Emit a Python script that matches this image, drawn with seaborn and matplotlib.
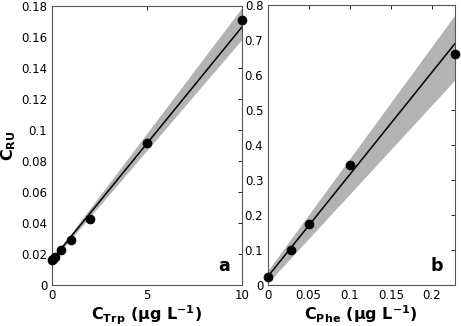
import numpy as np
import pandas as pd
import matplotlib
matplotlib.use("Agg")
import matplotlib.pyplot as plt
import seaborn as sns

# Panel a data (Trp)
trp_x = [0.0, 0.1, 0.2, 0.5, 1.0, 2.0, 5.0, 10.0]
trp_y = [0.0162, 0.0168, 0.0178, 0.0228, 0.0288, 0.0425, 0.0918, 0.1712]
trp_fit = [0.0158, 0.01507]          # intercept, slope
trp_band_x = [0.0, 10.0]
trp_band_lo = [0.0150, 0.1585]
trp_band_hi = [0.0166, 0.1790]

# Panel b data (Phe)
phe_x = [0.0, 0.028, 0.05, 0.1, 0.228]
phe_y = [0.022, 0.099, 0.174, 0.343, 0.660]
phe_fit = [0.023, 2.925]
phe_band_x = [0.0, 0.228]
phe_band_lo = [0.005, 0.586]
phe_band_hi = [0.040, 0.772]

a_xticks = [0, 5, 10]
a_yticks = [0, 0.02, 0.04, 0.06, 0.08, 0.1, 0.12, 0.14, 0.16, 0.18]
a_yticklabels = ["0", "0.02", "0.04", "0.06", "0.08", "0.1", "0.12", "0.14", "0.16", "0.18"]
b_xticks = [0, 0.05, 0.1, 0.15, 0.2]
b_xticklabels = ["0", "0.05", "0.1", "0.15", "0.2"]
b_yticks = [0, 0.1, 0.2, 0.3, 0.4, 0.5, 0.6, 0.7, 0.8]
b_yticklabels = ["0", "0.1", "0.2", "0.3", "0.4", "0.5", "0.6", "0.7", "0.8"]

sns.set_style("white")
plt.rcParams["font.family"] = ["DejaVu Sans"]
plt.rcParams["mathtext.fontset"] = "dejavusans"

fig = plt.figure(figsize=(4.61, 3.26), dpi=100)
ax1 = fig.add_axes([51.5/461, 1-285/326, 190.5/461, 279/326])
ax2 = fig.add_axes([267.5/461, 1-285/326, 187.5/461, 280/326])


def panel(ax, x, y, fit, bx, blo, bhi, xlim, ylim, letter):
    bx = np.asarray(bx)
    xx = np.linspace(bx[0], bx[-1], 50)
    lo = np.interp(xx, bx, blo)
    hi = np.interp(xx, bx, bhi)
    ax.fill_between(xx, lo, hi, color="#b3b3b3", linewidth=0, zorder=1)
    yy = fit[0] + fit[1] * xx
    df = pd.DataFrame({"x": xx, "y": yy})
    sns.lineplot(data=df, x="x", y="y", ax=ax, color="black", linewidth=1.1, zorder=2)
    pts = pd.DataFrame({"x": x, "y": y})
    sns.scatterplot(data=pts, x="x", y="y", ax=ax, color="black", s=42,
                    edgecolor="black", linewidth=0.5, zorder=3, clip_on=False)
    ax.set_xlim(*xlim)
    ax.set_ylim(*ylim)
    ax.text(0.935, 0.035, letter, transform=ax.transAxes, ha="right", va="bottom",
            fontsize=12.5, fontweight="bold", color="black")
    ax.tick_params(direction="in", top=True, right=True, length=3, width=0.6,
                   labelsize=8.5, pad=3, colors="black")
    for s in ax.spines.values():
        s.set_linewidth(0.8)
        s.set_color("#555555")


panel(ax1, trp_x, trp_y, trp_fit, trp_band_x, trp_band_lo, trp_band_hi,
      (0, 10), (0, 0.18), "a")
ax1.set_xticks(a_xticks)
ax1.set_yticks(a_yticks)
ax1.set_yticklabels(a_yticklabels)
ax1.set_xlabel(r"$\mathbf{C_{Trp}}$ ($\mathbf{\mu}$g L$^{\mathbf{-1}}$)",
               fontsize=11.5, fontweight="bold", labelpad=1, color="black")
ax1.set_ylabel(r"$\mathbf{C_{RU}}$", fontsize=11.5, fontweight="bold", labelpad=2,
               color="black")

panel(ax2, phe_x, phe_y, phe_fit, phe_band_x, phe_band_lo, phe_band_hi,
      (0, 0.228), (0, 0.8), "b")
ax2.set_xticks(b_xticks)
ax2.set_xticklabels(b_xticklabels)
ax2.set_yticks(b_yticks)
ax2.set_yticklabels(b_yticklabels)
ax2.set_xlabel(r"$\mathbf{C_{Phe}}$ ($\mathbf{\mu}$g L$^{\mathbf{-1}}$)",
               fontsize=11.5, fontweight="bold", labelpad=1, color="black")
ax2.set_ylabel("")

fig.savefig("out.png", dpi=100)
